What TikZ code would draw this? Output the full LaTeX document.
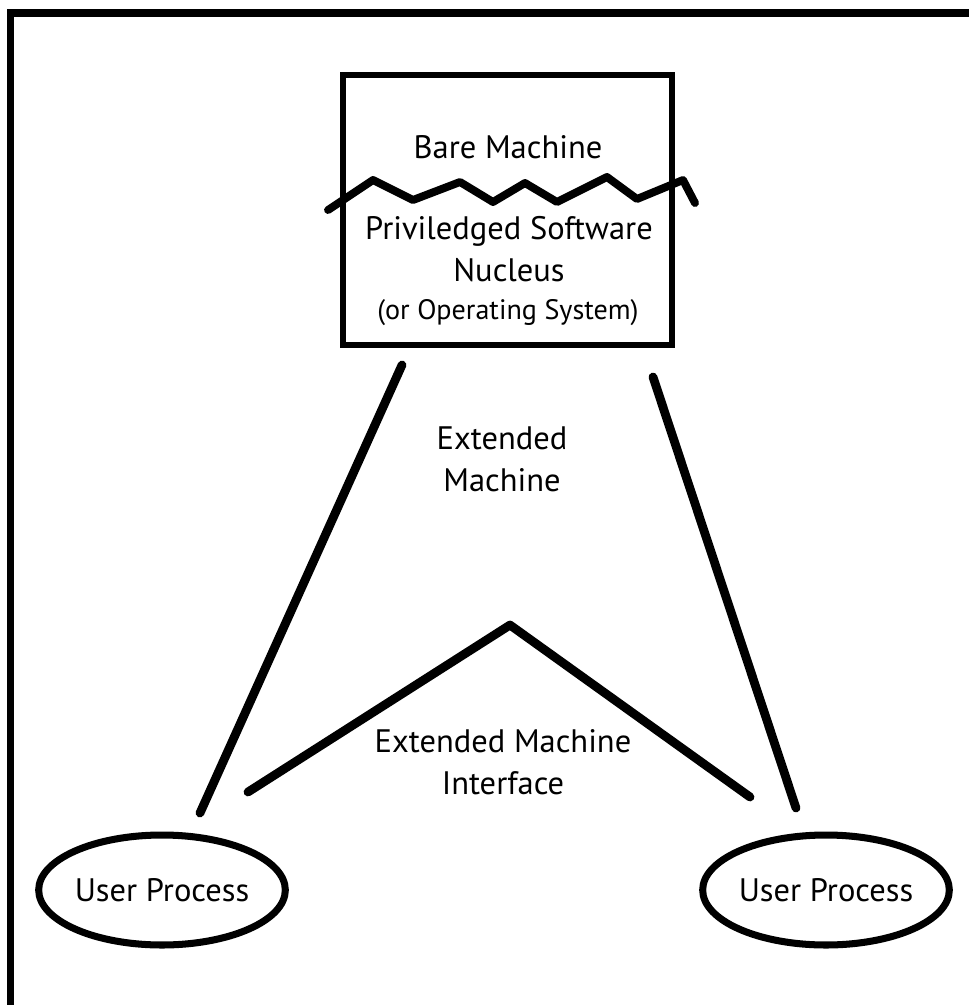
\documentclass[tikz,border=0pt]{standalone}
\usepackage{fontspec}
\setmainfont{PT Sans}
\usetikzlibrary{positioning}
\usetikzlibrary{shapes.geometric}

\tikzset{
  legend/.style={font=\fontsize{18.5}{24}\selectfont, align=center, inner sep=0pt},
  legendsmall/.style={font=\fontsize{16}{20}\selectfont, inner sep=0pt},
  stroke/.style={line width=5pt, line cap=round, line join=round},
  process/.style={ellipse, draw, line width=4pt, minimum width=4.84cm,
    minimum height=2.2cm, inner sep=0pt, font=\fontsize{18.5}{24}\selectfont},
}

\begin{document}
\begin{tikzpicture}[x=0.02cm, y=-0.02cm]
        \useasboundingbox (0,0) rectangle (969,1005);
        % frame, cut off at the right and the bottom
        \draw[line width=4pt] (10.5,1005) |- (969,13);

        % the nucleus box
        \node[draw, line width=3.6pt, minimum width=6.58cm, minimum height=5.4cm] (nucleus) at (507.5,210) {};
        \node[legend] (bare) at (508,147) {Bare Machine};
        \node[legend] (priv) at (509,249) {Priviledged Software\\Nucleus};
        \node[legendsmall] (os) at (508,313) {(or Operating System)};
        \draw[line width=4.5pt, line cap=round, line join=round]
          (328,210) -- (373,180) -- (413,200) -- (460,182) -- (493,202) -- (525,183)
          -- (557,202) -- (607,177) -- (637,199) -- (683,180) -- (695,203);

        \node[legend] (ext) at (502,459) {Extended\\Machine};
        \node[legend] (emi) at (503,762) {Extended Machine\\Interface};

        \node[process] (userl) at (162,890) {User Process};
        \node[process] (userr) at (826,890) {User Process};

        \coordinate (lt) at (402,365);
        \coordinate (lb) at (200,813);
        \coordinate (rt) at (653,377);
        \coordinate (rb) at (796,808);
        \coordinate (vl) at (248,792);
        \coordinate (vp) at (510,625);
        \coordinate (vr) at (750,797);
        \draw[stroke] (lt) -- (lb);
        \draw[stroke] (rt) -- (rb);
        \draw[stroke] (vl) -- (vp) -- (vr);

   %\draw[help lines, step=50] (0,0) grid (969,1005);
\end{tikzpicture}
\end{document}
